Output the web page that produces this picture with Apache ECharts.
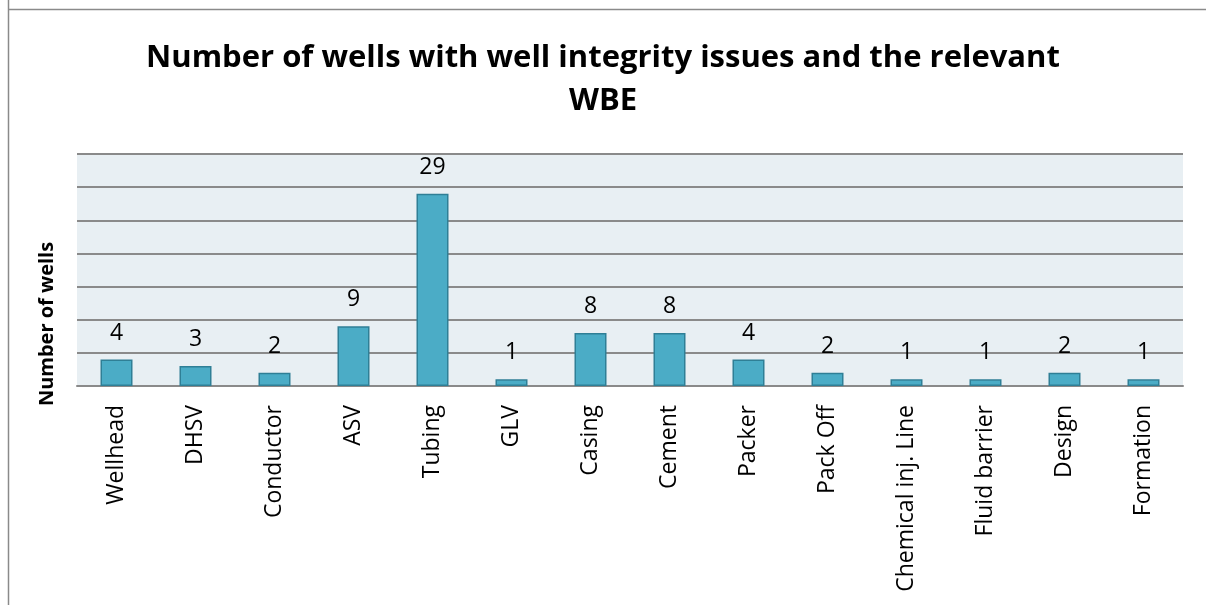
<!DOCTYPE html>
<html>
<head>
<meta charset="utf-8">
<script src="https://cdn.jsdelivr.net/npm/echarts@6/dist/echarts.min.js"></script>
<style>
html,body{margin:0;padding:0;background:#fff;}
#c{width:1206px;height:605px;}
</style>
</head>
<body>
<div id="c"></div>
<script>
const categories = ['Wellhead','DHSV','Conductor','ASV','Tubing','GLV','Casing','Cement','Packer','Pack Off','Chemical inj. Line','Fluid barrier','Design','Formation'];
const wells = [4,3,2,9,29,1,8,8,4,2,1,1,2,1];
const yMin = 0, yMax = 35, yInterval = 5;

const chart = echarts.init(document.getElementById('c'));
const font = '"Open Sans", sans-serif';
chart.setOption({
  animation: false,
  title: {
    text: 'Number of wells with well integrity issues and the relevant\nWBE',
    left: 'center',
    top: 32,
    textStyle: {fontFamily: font, fontSize: 31, fontWeight: 'bold', color: '#000', lineHeight: 43}
  },
  graphic: [
    {type: 'line', shape: {x1: 8.5, y1: 0, x2: 8.5, y2: 605}, style: {stroke: '#8a8a8a', lineWidth: 1.5}},
    {type: 'line', shape: {x1: 8, y1: 9.5, x2: 1206, y2: 9.5}, style: {stroke: '#8a8a8a', lineWidth: 1.5}},
    {type: 'text', x: 47, y: 324, rotation: Math.PI/2,
     style: {text: 'Number of wells', fontFamily: font, fontSize: 20, fontWeight: 'bold', fill: '#000', align: 'center', verticalAlign: 'middle'}}
  ],
  grid: {left: 77, right: 23, top: 154, height: 232, containLabel: false,
    show: true, backgroundColor: '#E8EFF3', borderWidth: 0},
  xAxis: {
    type: 'category', data: categories,
    axisLine: {show: true, lineStyle: {color: '#8a8a8a', width: 2}},
    axisTick: {show: false},
    axisLabel: {rotate: 90, fontFamily: font, fontSize: 23, color: '#000', margin: 19, interval: 0}
  },
  yAxis: {
    type: 'value', min: yMin, max: yMax, interval: yInterval,
    axisLine: {show: false}, axisTick: {show: false}, axisLabel: {show: false},
    splitLine: {lineStyle: {color: '#8a8a8a', width: 2}}
  },
  series: [{
    type: 'bar', data: wells, barWidth: 32,
    itemStyle: {color: '#4BACC6', borderColor: '#2F7F96', borderWidth: 1.5},
    label: {show: true, position: 'top', distance: 15, fontFamily: font, fontSize: 23, color: '#000'}
  }]
});
</script>
</body>
</html>
